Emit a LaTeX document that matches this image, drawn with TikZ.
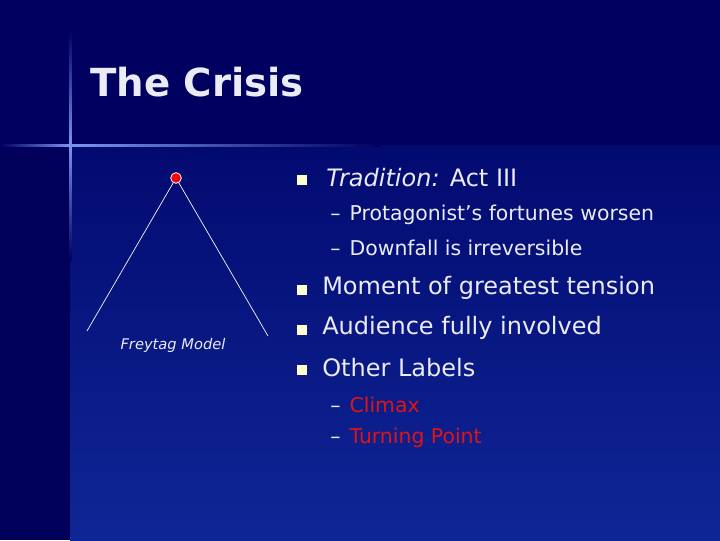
\documentclass[tikz,border=0pt]{standalone}
\usepackage{fontspec}
\setmainfont{DejaVu Sans}
\definecolor{bgdark}{RGB}{0,0,96}
\definecolor{bgmid}{RGB}{2,10,112}
\definecolor{bglight}{RGB}{15,38,150}
\definecolor{glow}{RGB}{120,150,240}
\definecolor{bullety}{RGB}{255,255,204}
\definecolor{txt}{RGB}{235,235,245}
\definecolor{redt}{RGB}{225,20,20}
\tikzset{
  bul/.style={fill=bullety,minimum size=7.5pt,inner sep=0pt},
  main/.style={anchor=west,text=txt,font=\fontsize{18}{20}\selectfont,inner sep=0pt},
  sub/.style={anchor=west,text=txt,font=\fontsize{15.3}{17}\selectfont,inner sep=0pt},
  leg/.style={draw=white,line width=0.5pt}
}
\begin{document}
\begin{tikzpicture}[x=0.75pt,y=-0.75pt]
\useasboundingbox (0,0) rectangle (720,540);
\fill[bgdark] (0,0) rectangle (720,540);
\shade[left color=bgmid,right color=bglight,shading angle=0] (70,145) rectangle (720,540);
\fill[bgdark!95!black] (0,146) rectangle (70,540);
\shade[left color=bgdark,right color=glow] (0,144) rectangle (70,146.5);
\shade[left color=glow,right color=bgdark] (70,144) rectangle (380,146.5);
\shade[top color=bgdark,bottom color=glow] (69,30) rectangle (71.5,145);
\shade[top color=glow,bottom color=bgdark] (69,145) rectangle (71.5,260);
\node[anchor=west,text=txt,font=\fontsize{29}{32}\selectfont\bfseries,inner sep=0pt] (title) at (90,82) {The Crisis};
\coordinate (apex) at (176,178);
\coordinate (bl) at (87,331);
\coordinate (br) at (268,336);
\draw[leg] (bl) -- (apex) -- (br);
\node[circle,fill=red,draw=white,line width=0.6pt,minimum size=8pt,inner sep=0pt] (dot) at (apex) {};
\node[text=txt,font=\fontsize{11}{12}\selectfont\itshape,inner sep=0pt] (fm) at (173,345) {Freytag Model};
\node[bul] (b1) at (302,180) {};
\node[main] (t1) at (326,178) {\textit{Tradition:} Act III};
\node[sub] (s1) at (330,215) {–\hspace{0.45em}Protagonist’s fortunes worsen};
\node[sub] (s2) at (330,248) {–\hspace{0.45em}Downfall is irreversible};
\node[bul] (b2) at (302,290) {};
\node[main] (t2) at (322,288) {Moment of greatest tension};
\node[bul] (b3) at (302,330) {};
\node[main] (t3) at (322,328) {Audience fully involved};
\node[bul] (b4) at (302,370) {};
\node[main] (t4) at (322,368) {Other Labels};
\node[sub] (s3) at (330,405) {–\hspace{0.45em}\textcolor{redt}{Climax}};
\node[sub] (s4) at (330,438) {–\hspace{0.45em}\textcolor{redt}{Turning Point}};
\end{tikzpicture}
\end{document}
